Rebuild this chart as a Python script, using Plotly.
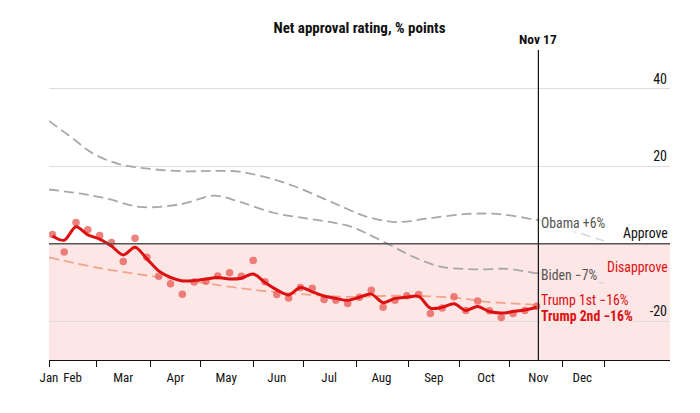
import plotly.graph_objects as go

# Net approval, weekly polls (days since Jan 1)
poll_days = [2, 9, 16, 23, 30, 37, 44, 51, 58, 65, 72, 79, 86, 93, 100, 107, 114, 121,
             128, 135, 142, 149, 156, 163, 170, 177, 184, 191, 198, 205, 212, 219, 226,
             233, 240, 247, 254, 261, 268, 275, 282, 289]
poll_values = [2.4, -2.1, 5.5, 3.6, 2.1, 0.3, -4.6, 1.4, -3.5, -8.4, -10.3, -13.0, -9.9,
               -9.7, -8.3, -7.5, -8.4, -4.3, -9.8, -13.1, -14.0, -11.3, -11.5, -14.4,
               -14.6, -15.4, -13.8, -12.0, -16.4, -14.6, -13.4, -13.1, -18.0, -16.6,
               -13.7, -17.2, -14.8, -17.3, -19.0, -18.0, -17.2, -16.1]
trend_values = [2.0, 0.9, 4.4, 2.3, 1.2, -0.6, -2.9, -0.9, -3.9, -7.0, -8.7, -9.6, -9.5,
                -9.1, -8.7, -9.1, -8.9, -7.8, -10.0, -11.9, -13.2, -11.3, -12.4, -13.5,
                -14.1, -14.6, -13.8, -13.0, -15.2, -14.1, -13.8, -13.6, -16.6, -16.4,
                -15.5, -17.2, -16.2, -17.5, -17.9, -17.5, -17.1, -16.4]

# Trump first term, same point in the year
trump1_days = [0, 30, 60, 90, 119, 149, 178, 208, 240, 260, 279, 290]
trump1_values = [-3.5, -6.3, -8.3, -10.0, -11.8, -13.0, -13.7, -13.4, -13.9, -15.0, -15.5, -15.8]

# Obama and Biden first years
obama_days = [0, 14, 26, 42, 60, 80, 98, 113, 129, 145, 163, 173, 183, 188, 206, 224, 248, 268, 287, 290]
obama_values = [31.7, 27.2, 23.3, 20.5, 19.3, 18.7, 18.8, 18.6, 17.1, 14.9, 11.6, 9.7, 7.8, 7.0,
                5.6, 6.5, 7.7, 7.6, 6.3, 6.1]
obama_rest_days = [290, 309, 329]
obama_rest_values = [6.1, 3.5, 0.7]

biden_days = [0, 18, 34, 54, 78, 98, 113, 133, 153, 169, 179, 188, 202, 216, 232, 252, 272, 287, 290]
biden_values = [14.0, 13.0, 11.7, 9.5, 10.2, 12.4, 10.8, 8.0, 6.5, 5.4, 4.4, 2.7, -0.3, -3.4,
                -5.9, -6.6, -6.5, -7.5, -7.6]
biden_rest_days = [290, 309, 329]
biden_rest_values = [-7.6, -8.8, -10.2]

month_labels = ["Jan", "Feb", "Mar", "Apr", "May", "Jun", "Jul", "Aug", "Sep", "Oct", "Nov", "Dec"]
month_label_days = [0, 14, 44, 75, 105, 135, 166, 197, 228, 259, 290, 316]
month_tick_days = [0, 28, 60, 90, 121, 151, 182, 213, 243, 273, 304, 329]
today = 290

FONT = "Roboto Condensed, Liberation Sans Narrow, Roboto, Arial, sans-serif"
RED = "#dc1010"

fig = go.Figure()

# comparison lines
fig.add_trace(go.Scatter(x=obama_rest_days, y=obama_rest_values, mode="lines",
                         line=dict(color="#d9d9d9", width=1.6, dash="10px,5px", shape="spline")))
fig.add_trace(go.Scatter(x=biden_rest_days, y=biden_rest_values, mode="lines",
                         line=dict(color="#d9d9d9", width=1.6, dash="10px,5px", shape="spline")))
fig.add_trace(go.Scatter(x=obama_days, y=obama_values, mode="lines",
                         line=dict(color="#a8a8a8", width=1.8, dash="10px,5px", shape="spline")))
fig.add_trace(go.Scatter(x=biden_days, y=biden_values, mode="lines",
                         line=dict(color="#a8a8a8", width=1.8, dash="10px,5px", shape="spline")))
fig.add_trace(go.Scatter(x=trump1_days, y=trump1_values, mode="lines",
                         line=dict(color="#f3a58c", width=1.8, dash="10px,5px", shape="spline")))

# current term
fig.add_trace(go.Scatter(x=poll_days, y=poll_values, mode="markers",
                         marker=dict(color="#e8625e", size=7.5, opacity=0.8)))
fig.add_trace(go.Scatter(x=poll_days, y=trend_values, mode="lines",
                         line=dict(color=RED, width=3, shape="spline", smoothing=0.9)))

# disapprove shading, zero line and today marker
fig.add_shape(type="rect", xref="paper", x0=0, x1=1, y0=-30, y1=0,
              fillcolor="#fde6e6", line_width=0, layer="below")
fig.add_shape(type="line", xref="paper", x0=0, x1=1, y0=0, y1=0,
              line=dict(color="#555555", width=1.6))
fig.add_shape(type="line", x0=today, x1=today, yref="paper", y0=0, y1=1,
              line=dict(color="#111111", width=1.2))

fig.add_annotation(x=today, y=1, yref="paper", yanchor="bottom", text="<b>Nov 17</b>",
                   showarrow=False, font=dict(size=13.5, color="#111111"), yshift=1)

# series labels
labels = [
    ("Obama +6%", 5.3, "#555555", "#ffffff"),
    ("Biden −7%", -8.1, "#555555", "#fde6e6"),
    ("Trump 1st −16%", -14.5, RED, "#fde6e6"),
    ("<b>Trump 2nd −16%</b>", -18.7, RED, "#fde6e6"),
]
for text, yv, col, bg in labels:
    fig.add_annotation(x=today, y=yv, xanchor="left", text=text, showarrow=False,
                       font=dict(size=13.8, color=col), bgcolor=bg, xshift=2, borderpad=0)

fig.add_annotation(x=1, xref="paper", y=2.8, xanchor="right", text="Approve",
                   showarrow=False, font=dict(size=13.8, color="#111111"))
fig.add_annotation(x=1, xref="paper", y=-6, xanchor="right", text="Disapprove",
                   showarrow=False, font=dict(size=13.8, color=RED))

# the page adds an 8px body margin, so the margins are trimmed by that much
fig.update_layout(
    width=700, height=413,
    margin=dict(l=41, r=38, t=42, b=61),
    paper_bgcolor="white", plot_bgcolor="white",
    showlegend=False,
    font=dict(family=FONT, size=13, color="#111111"),
    title=dict(text="<b>Net approval rating, % points</b>", x=0.5, xref="paper",
               y=1 - 20 / 413, yanchor="middle", font=dict(size=15)),
)
fig.update_xaxes(
    range=[0, 368], showgrid=False, zeroline=False,
    showline=True, linecolor="#111111", linewidth=1.2,
    tickmode="array", tickvals=month_label_days, ticktext=month_labels, ticks="",
    ticklabelstandoff=5, tickfont=dict(size=13, color="#111111"),
    minor=dict(tickmode="array", tickvals=month_tick_days, ticks="outside",
               ticklen=6, tickcolor="#111111", tickwidth=1, showgrid=False),
)
fig.update_yaxes(
    range=[-30, 50], side="right", tickmode="array", tickvals=[-20, 20, 40],
    ticktext=["-20", "20", "40"], ticklabelposition="inside top", ticks="",
    showgrid=True, gridcolor="#dddddd", gridwidth=1, zeroline=False, showline=False,
    tickfont=dict(size=14, color="#111111"),
)

fig.write_html("out.html")
